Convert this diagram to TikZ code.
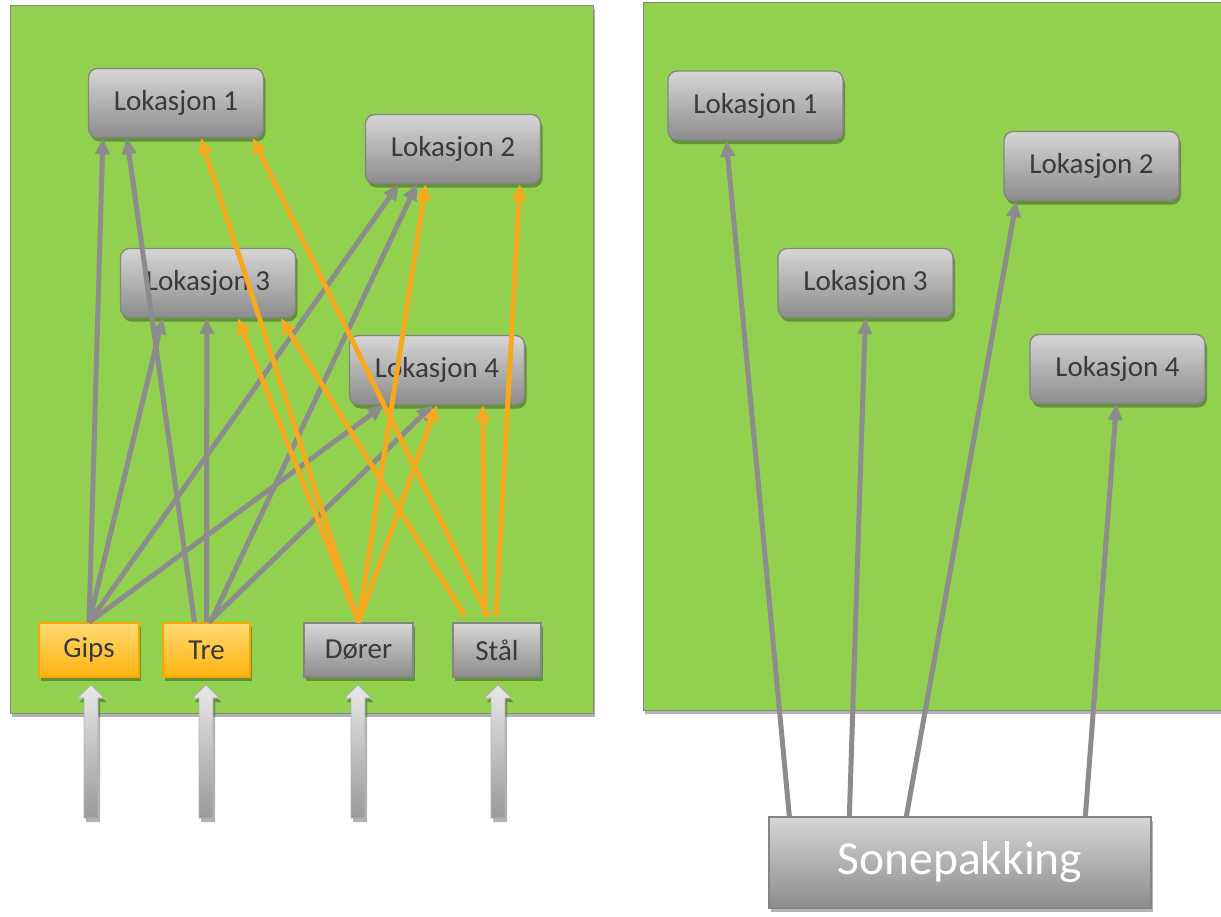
\documentclass[tikz,border=0pt]{standalone}
\usepackage{fontspec}
\setmainfont{Carlito}
\usetikzlibrary{shadows,arrows.meta,calc}
\definecolor{panelgreen}{HTML}{92D050}
\definecolor{panelborder}{HTML}{7F8C7F}
\definecolor{boxtop}{HTML}{D6D6D6}
\definecolor{boxbot}{HTML}{8C8C8C}
\definecolor{boxborder}{HTML}{858585}
\definecolor{txtgray}{HTML}{3A3A3A}
\definecolor{linegray}{HTML}{8C8C8C}
\definecolor{lineorange}{HTML}{F6A91E}
\definecolor{orgtop}{HTML}{FFDA72}
\definecolor{orgbot}{HTML}{FFB210}
\definecolor{orgborder}{HTML}{F4A700}
\begin{document}
\begin{tikzpicture}[x=1pt,y=-1pt,
  shadowed/.style={drop shadow={shadow xshift=2pt,shadow yshift=-4pt,opacity=0.3,fill=black}},
  panel/.style={fill=panelgreen,draw=panelborder,line width=1pt,shadowed},
  lok/.style={rectangle,rounded corners=9pt,minimum width=175pt,minimum height=69pt,inner sep=0pt,
    draw=boxborder,line width=1.3pt,top color=boxtop,bottom color=boxbot,text=txtgray,
    font=\fontsize{29}{33}\selectfont,shadowed},
  src/.style={rectangle,minimum height=54pt,inner sep=0pt,line width=1.3pt,
    font=\fontsize{29}{33}\selectfont,text=txtgray,shadowed},
  graysrc/.style={src,draw=boxborder,top color=boxtop,bottom color=boxbot},
  orangesrc/.style={src,draw=orgborder,top color=orgtop,bottom color=orgbot},
  garr/.style={draw=linegray,line width=5pt,-{Triangle[length=16pt,width=14pt]}},
  oarr/.style={draw=lineorange,line width=5pt,-{Triangle[length=16pt,width=14pt]}},
  blockarrow/.style={draw=gray!60,line width=0.8pt,top color=gray!18,bottom color=gray!80,shadowed}
]
\useasboundingbox (0,0) rectangle (1221,916);

% panels
\path[panel] (10,5) rectangle (593,713);
\path[panel] (643,2) rectangle (1221,710);

% left panel nodes
\node[lok] (l1) at (176,103) {Lokasjon 1};
\node[lok] (l2) at (453,149) {Lokasjon 2};
\node[lok] (l3) at (208,283) {Lokasjon 3};
\node[lok] (l4) at (437,370) {Lokasjon 4};

\node[orangesrc,minimum width=100pt] (gips) at (89,650) {Gips};
\node[orangesrc,minimum width=87pt] (tre) at (206.5,650) {Tre};
\node[graysrc,minimum width=109pt] (dorer) at (358.5,650) {Dører};
\node[graysrc,minimum width=88pt] (stal) at (497,650) {Stål};

% incoming block arrows
\foreach \c/\x in {ga/91,ta/206,da/358,sa/498}{
  \coordinate (\c) at (\x,818);
  \path[blockarrow] ($(\c)+(-7,0)$) -- ($(\c)+(-7,-120)$) -- ($(\c)+(-13.5,-120)$) -- ($(\c)+(0,-133)$)
     -- ($(\c)+(13.5,-120)$) -- ($(\c)+(7,-120)$) -- ($(\c)+(7,0)$) -- cycle;
}

% gray connectors from Gips
\draw[garr] (gips.north) -- ($(l1.south west)+(15,0)$);
\draw[garr] (gips.north) -- ($(l3.south west)+(43,0)$);
\draw[garr] (gips.north) -- ($(l2.south west)+(34,0)$);
\draw[garr] (gips.north) -- ($(l4.south west)+(35,0)$);
% gray connectors from Tre
\draw[garr] ($(tre.north)+(-12,0)$) -- ($(l1.south west)+(39,0)$);
\draw[garr] (tre.north) -- ($(l3.south west)+(87,0)$);
\draw[garr] ($(tre.north)+(4,0)$) -- ($(l2.south west)+(52,0)$);
\draw[garr] ($(tre.north)+(2,0)$) -- ($(l4.south west)+(84,0)$);
% orange connectors from Dører
\draw[oarr] (dorer.north) -- ($(l1.south west)+(113,0)$);
\draw[oarr] (dorer.north) -- ($(l3.south west)+(118,0)$);
\draw[oarr] (dorer.north) -- ($(l2.south west)+(61,0)$);
\draw[oarr] (dorer.north) -- ($(l4.south west)+(88,0)$);
% orange connectors from Stål
\draw[oarr] ($(stal.north)+(-9,-6)$) -- ($(l1.south west)+(165,0)$);
\draw[oarr] ($(stal.north)+(-32,-6)$) -- ($(l3.south west)+(161,0)$);
\draw[oarr] ($(stal.north)+(-12,-6)$) -- ($(l4.south west)+(134,0)$);
\draw[oarr] ($(stal.north)+(-1,-6)$) -- ($(l2.south west)+(155,0)$);

% right panel nodes
\node[lok] (r1) at (755.5,105.5) {Lokasjon 1};
\node[lok] (r2) at (1091.5,166) {Lokasjon 2};
\node[lok] (r3) at (865.5,283) {Lokasjon 3};
\node[lok] (r4) at (1117.5,369) {Lokasjon 4};
\node[rectangle,minimum width=382pt,minimum height=91pt,inner sep=0pt,draw=boxborder,line width=1.3pt,
  top color=boxtop,bottom color=boxbot,text=white,font=\fontsize{47.5}{52}\selectfont,shadowed]
  (sone) at (960,862.5) {Sonepakking};

\draw[garr] ($(sone.north west)+(21,0)$) -- ($(r1.south west)+(59,0)$);
\draw[garr] ($(sone.north west)+(81,0)$) -- ($(r3.south west)+(88,0)$);
\draw[garr] ($(sone.north west)+(138,0)$) -- ($(r2.south west)+(13,0)$);
\draw[garr] ($(sone.north west)+(317,0)$) -- ($(r4.south west)+(87,0)$);
\end{tikzpicture}
\end{document}
